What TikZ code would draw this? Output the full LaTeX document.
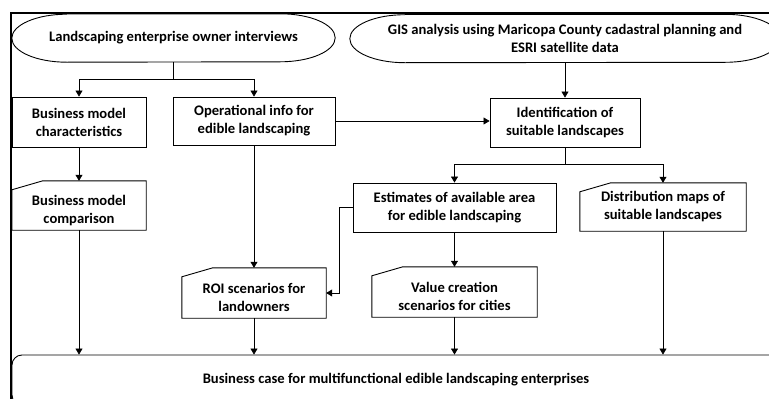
\documentclass[tikz,border=0pt]{standalone}
\usepackage{fontspec}
\setmainfont{Carlito}
\usetikzlibrary{arrows.meta}
\tikzset{
  box/.style={draw, line width=0.9pt, align=center, inner sep=2pt},
  plain/.style={align=center, inner sep=2pt},
  low/.style={text height=40pt, text depth=4pt},
  link/.style={line width=0.6pt, -{Triangle[width=7pt, length=6pt]}},
}

\begin{document}
\begin{tikzpicture}[x=1pt, y=-1pt, font=\fontsize{14.6}{18}\selectfont\bfseries]
  \clip (0, 0) rectangle (769, 399);
  \draw [line width=1.6pt] (11, 399) -- (11, 13) -- (769, 13);

  % top sources
  \node [plain, minimum width=323pt, minimum height=48pt] (interv) at (173.5, 38) {Landscaping enterprise owner interviews};
  \node [plain, minimum width=430pt, minimum height=48pt] (gis) at (565, 38.5) {GIS analysis using Maricopa County cadastral planning and\\ESRI satellite data};
  \foreach \n in {interv, gis}
    \draw [line width=0.9pt] ([xshift=55pt]\n.north west) -- ([xshift=-55pt]\n.north east)
      arc [start angle=90, end angle=-90, x radius=55pt, y radius=24pt]
      -- ([xshift=55pt]\n.south west)
      arc [start angle=270, end angle=90, x radius=55pt, y radius=24pt];

  % processes
  \node [box, minimum width=134pt, minimum height=50pt] (bmchar) at (79, 122) {Business model\\characteristics};
  \node [box, minimum width=162pt, minimum height=48pt] (opinfo) at (254, 121) {Operational info for\\edible landscaping};
  \node [box, minimum width=150pt, minimum height=49pt] (ident) at (565, 122.5) {Identification of\\suitable landscapes};
  \node [box, minimum width=203pt, minimum height=49pt] (estim) at (454.5, 207.5) {Estimates of available area\\for edible landscaping};

  % outputs
  \node [plain, low, minimum width=134pt, minimum height=49pt] (bmcomp) at (79, 205.5) {Business model\\comparison};
  \node [plain, low, minimum width=144pt, minimum height=50pt] (roi) at (254, 293) {ROI scenarios for\\landowners};
  \node [plain, low, minimum width=165pt, minimum height=50pt] (value) at (454.5, 292) {Value creation\\scenarios for cities};
  \node [plain, minimum width=166pt, minimum height=48pt] (distmap) at (663, 207) {Distribution maps of\\suitable landscapes};
  \foreach \n in {bmcomp, roi, value, distmap}
    \draw [line width=0.9pt] ([yshift=-9pt]\n.north west) -- ([xshift=31pt]\n.north west)
      -- (\n.north east) -- (\n.south east) -- (\n.south west) -- cycle;

  \node [box, rounded corners=10pt, minimum width=768pt, minimum height=50pt] (bizcase) at (396, 380) {Business case for multifunctional edible landscaping enterprises};

  % connectors
  \draw [line width=0.6pt] (interv.south) -- ++(0, 17) coordinate (split1);
  \draw [link] (split1) -| (bmchar.north);
  \draw [link] (split1) -| (opinfo.north);
  \draw [link] (gis.south) -- (ident.north);
  \draw [link] (opinfo.east) -- (opinfo.east -| ident.west);
  \draw [line width=0.6pt] (ident.south) -- ++(0, 17) coordinate (split2);
  \draw [link] (split2) -| (estim.north);
  \draw [link] (split2) -| (distmap.north);
  \draw [link] (bmchar) -- (bmcomp);
  \draw [link] (opinfo) -- (roi);
  \draw [link] (estim.west) -- ++(-13, 0) |- (roi.east);
  \draw [link] (estim) -- (value);
  \foreach \n in {bmcomp, roi, value, distmap}
    \draw [link] (\n.south) -- (\n.south |- bizcase.north);
\end{tikzpicture}
\end{document}
